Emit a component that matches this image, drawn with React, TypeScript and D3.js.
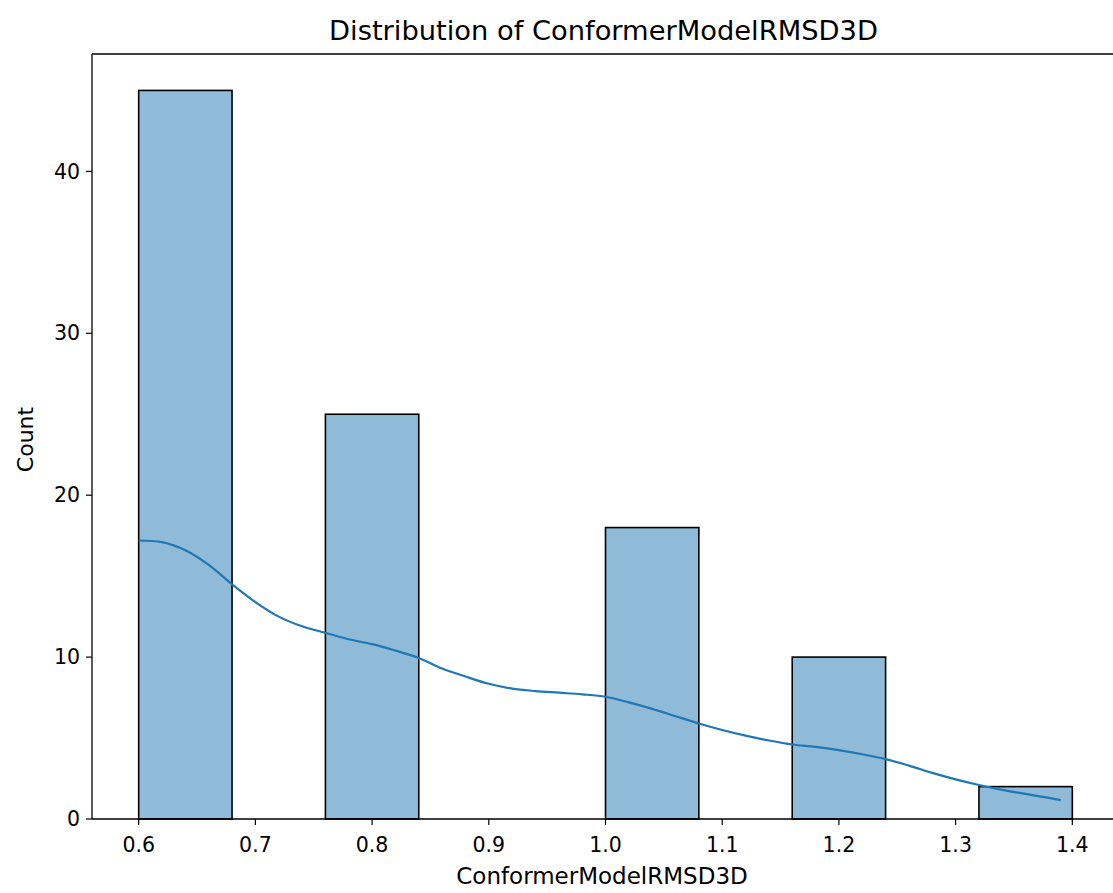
import React from "react";
import * as d3 from "d3";

const binEdges = [0.6, 0.68, 0.76, 0.84, 0.92, 1.0, 1.08, 1.16, 1.24, 1.32, 1.4];
const binCounts = [45, 0, 25, 0, 0, 18, 0, 10, 0, 2];

const kdeX = [0.6, 0.62, 0.64, 0.66, 0.68, 0.7, 0.72, 0.74, 0.76, 0.78, 0.8, 0.82, 0.84, 0.86, 0.88, 0.9, 0.92, 0.94, 0.96, 0.98, 1.0, 1.02, 1.04, 1.06, 1.08, 1.1, 1.12, 1.14, 1.16, 1.18, 1.2, 1.22, 1.24, 1.26, 1.28, 1.3, 1.32, 1.34, 1.36, 1.38, 1.39];
const kdeY = [17.2, 17.1, 16.6, 15.7, 14.5, 13.4, 12.5, 11.9, 11.5, 11.1, 10.8, 10.4, 9.95, 9.3, 8.8, 8.35, 8.05, 7.9, 7.8, 7.7, 7.55, 7.2, 6.8, 6.35, 5.9, 5.5, 5.15, 4.85, 4.6, 4.45, 4.25, 4.0, 3.7, 3.3, 2.85, 2.45, 2.1, 1.8, 1.55, 1.3, 1.17];

const xTicks = [0.6, 0.7, 0.8, 0.9, 1.0, 1.1, 1.2, 1.3, 1.4];
const yTicks = [0, 10, 20, 30, 40];

const W = 1113;
const H = 893;
const left = 92;
const right = 1119;
const top = 54;
const bottom = 819;
const font = "DejaVu Sans, sans-serif";
const blue = "#1f77b4";

export default function App() {
  const x = d3.scaleLinear().domain([0.56, 1.44]).range([left, right]);
  const y = d3.scaleLinear().domain([0, 47.25]).range([bottom, top]);
  const line = d3
    .line<number>()
    .x((_, i) => x(kdeX[i]))
    .y((d) => y(d))
    .curve(d3.curveCatmullRom);

  return (
    <svg
      width={W}
      height={H}
      style={{ position: "absolute", left: 0, top: 0, background: "#fff" }}
      fontFamily={font}
    >
      <rect x={0} y={0} width={W} height={H} fill="#fff" />
      {binCounts.map((c, i) =>
        c > 0 ? (
          <rect
            key={i}
            x={x(binEdges[i])}
            y={y(c)}
            width={x(binEdges[i + 1]) - x(binEdges[i])}
            height={y(0) - y(c)}
            fill={blue}
            fillOpacity={0.5}
            stroke="#000"
            strokeWidth={1.6}
          />
        ) : null
      )}
      <path d={line(kdeY) || ""} fill="none" stroke={blue} strokeWidth={2.2} />
      {/* spines */}
      <line x1={left} x2={left} y1={top} y2={bottom} stroke="#000" strokeWidth={1.3} />
      <line x1={left} x2={right} y1={bottom} y2={bottom} stroke="#000" strokeWidth={1.3} />
      <line x1={left} x2={right} y1={top} y2={top} stroke="#000" strokeWidth={1.3} />
      <line x1={right} x2={right} y1={top} y2={bottom} stroke="#000" strokeWidth={1.3} />
      {xTicks.map((t) => (
        <g key={t} transform={`translate(${x(t)},${bottom})`}>
          <line y1={0} y2={6} stroke="#000" strokeWidth={1.2} />
          <text y={33} textAnchor="middle" fontSize={20.5} fill="#000">
            {t.toFixed(1)}
          </text>
        </g>
      ))}
      {yTicks.map((t) => (
        <g key={t} transform={`translate(${left},${y(t)})`}>
          <line x1={0} x2={-6} stroke="#000" strokeWidth={1.2} />
          <text x={-12} dy="0.35em" textAnchor="end" fontSize={20.5} fill="#000">
            {t}
          </text>
        </g>
      ))}
      <text x={602} y={884} textAnchor="middle" fontSize={23} fill="#000">
        ConformerModelRMSD3D
      </text>
      <text
        transform={`translate(33,${(top + bottom) / 2 + 3})rotate(-90)`}
        textAnchor="middle"
        fontSize={22}
        fill="#000"
      >
        Count
      </text>
      <text x={603.5} y={40} textAnchor="middle" fontSize={27.3} fill="#000">
        Distribution of ConformerModelRMSD3D
      </text>
    </svg>
  );
}
